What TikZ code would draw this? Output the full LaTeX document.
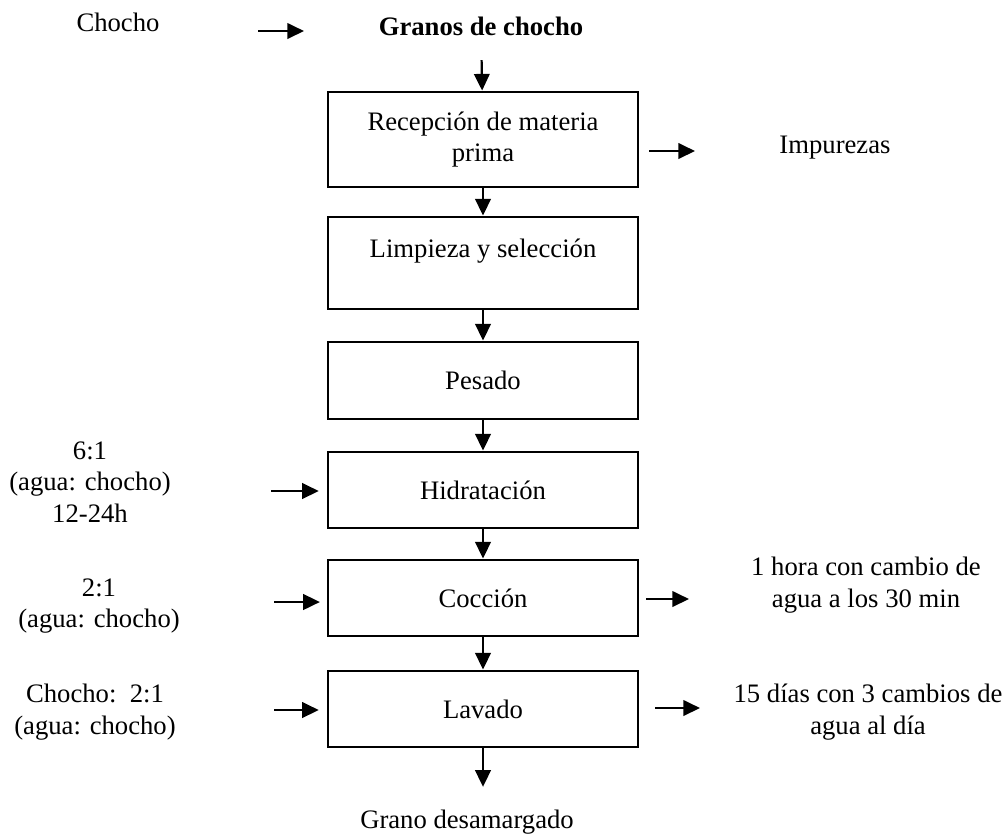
\documentclass[tikz,border=0pt]{standalone}
\usepackage{fontspec}
\setmainfont{Liberation Serif}
\usetikzlibrary{positioning,arrows.meta,calc}
\tikzset{
  stage/.style={draw=black, line width=1.3pt, minimum width=139.5pt,
    inner sep=0pt, align=center, font=\fontsize{12}{14.2}\selectfont},
  note/.style={inner sep=0pt, align=center, font=\fontsize{12}{14.2}\selectfont},
  flow/.style={-{Triangle[length=7.5pt,width=7pt]}, line width=1pt, draw=black},
}

\begin{document}
\begin{tikzpicture}[x=0.45pt,y=-0.45pt]
\useasboundingbox (0,0) rectangle (1004,834);
% top row
\node[note, anchor=base] (cho) at (118,31) {Chocho};
\node[note, anchor=base, font=\fontsize{12}{14.2}\selectfont\bfseries] (gra) at (481,35) {Granos de chocho};
% process column
\node[stage, minimum height=42.75pt] (rec) at (483,139.5) {Recepción de materia\\prima};
\node[stage, minimum height=41.4pt, text depth=13.5pt] (lim) at (483,263) {Limpieza y selección};
\node[stage, minimum height=34.65pt] (pes) at (483,380.5) {Pesado};
\node[stage, minimum height=34.2pt] (hid) at (483,490) {Hidratación};
\node[stage, minimum height=34.2pt] (coc) at (483,598) {Cocción};
\node[stage, minimum height=34.2pt] (lav) at (483,709) {Lavado};
\node[note, anchor=base] (out) at (467,828) {Grano desamargado};
% side notes
\node[note, anchor=base] (imp) at (835,153) {Impurezas};
\node[note] (hidnote) at (90,482) {6:1\\(agua: chocho)\\12-24h};
\node[note] (cocnote) at (99,606) {2:1\\(agua: chocho)};
\node[note] (lavnote) at (95,712) {Chocho:\ \ 2:1\\(agua: chocho)};
\node[note] (cocright) at (866,585) {1 hora con cambio de\\agua a los 30 min};
\node[note] (lavright) at (868,712) {15 días con 3 cambios de\\agua al día};
% main flow
\coordinate (chotail) at (258,31);
\coordinate (chotip) at (304,31);
\draw[flow] (chotail) -- (chotip);
\draw[flow, shorten <=11pt] (gra) -- (rec);
\draw[flow] (rec) -- (lim);
\draw[flow] (lim) -- (pes);
\draw[flow] (pes) -- (hid);
\draw[flow] (hid) -- (coc);
\draw[flow] (coc) -- (lav);
\draw[flow, shorten >=10pt] (lav.south) -- (lav.south |- out.north);
% inputs
\coordinate (hidin) at (271,491);
\coordinate (cocin) at (274,602);
\coordinate (lavin) at (274,710);
\draw[flow, shorten >=3.5pt] (hidin) -- (hidin -| hid.west);
\draw[flow, shorten >=3pt] (cocin) -- (cocin -| coc.west);
\draw[flow, shorten >=3.5pt] (lavin) -- (lavin -| lav.west);
% outputs
\coordinate (recout) at (695,151);
\coordinate (cocout) at (689,599);
\coordinate (lavout) at (700,708);
\draw[flow, shorten <=4.5pt] (recout -| rec.east) -- (recout);
\draw[flow, shorten <=3pt] (cocout -| coc.east) -- (cocout);
\draw[flow, shorten <=7pt] (lavout -| lav.east) -- (lavout);
\end{tikzpicture}
\end{document}
